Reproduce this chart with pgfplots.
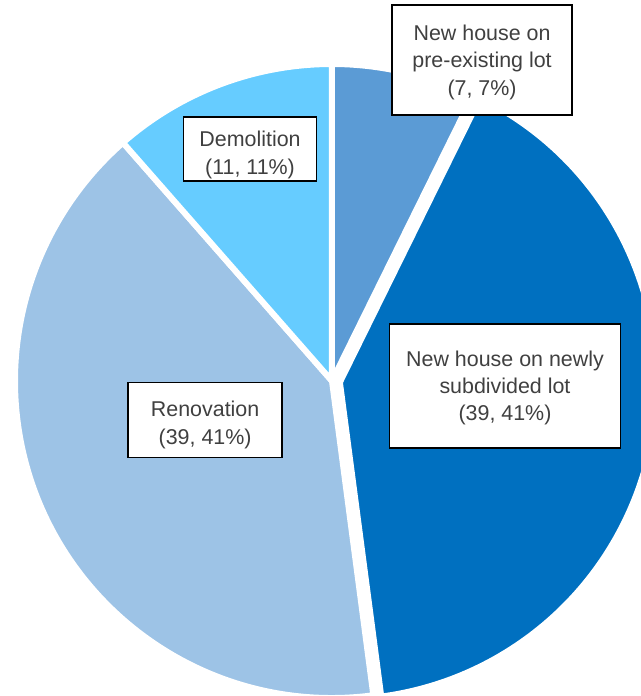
\documentclass[border=0pt]{standalone}
\usepackage{pgfplots}
\usepackage{pgfplotstable}
\pgfplotsset{compat=1.18}
\usepackage{fontspec}
\setmainfont{Liberation Sans}
\definecolor{cpre}{HTML}{5B9BD5}
\definecolor{cnew}{HTML}{0070C0}
\definecolor{creno}{HTML}{9DC3E6}
\definecolor{cdemo}{HTML}{66CCFF}
\definecolor{txt}{HTML}{404040}
\pgfplotstableread{
label count
pre 7
newly 39
reno 39
demo 11
}\piedata
\tikzset{
  box/.style={draw=black, line width=1.5bp, fill=white, inner sep=0pt},
  lbl/.style={text=txt, align=center, inner sep=0pt, font=\fontsize{21.5}{27.5}\selectfont}}
\begin{document}
\begin{tikzpicture}
\useasboundingbox (0,0) rectangle (641bp,696bp);
\clip (0,0) rectangle (641bp,696bp);
\pgfplotstablegetelem{0}{count}\of\piedata \let\vA\pgfplotsretval
\pgfplotstablegetelem{1}{count}\of\piedata \let\vB\pgfplotsretval
\pgfplotstablegetelem{2}{count}\of\piedata \let\vC\pgfplotsretval
\pgfplotstablegetelem{3}{count}\of\piedata \let\vD\pgfplotsretval
\pgfmathsetmacro\tot{\vA+\vB+\vC+\vD}
\pgfmathsetmacro\aA{90}
\pgfmathsetmacro\aB{\aA-360*\vA/\tot}
\pgfmathsetmacro\aC{\aB-360*\vB/\tot}
\pgfmathsetmacro\aD{\aC-360*\vC/\tot}
\pgfmathsetmacro\aE{\aD-360*\vD/\tot}
\pgfmathsetmacro\mB{(\aB+\aC)/2}
\begin{axis}[
  at={(0,0)}, anchor=south west, scale only axis,
  width=641bp, height=696bp,
  xmin=-1.0573, xmax=0.9841, ymin=-1.0032, ymax=1.2134,
  hide axis, clip=false,
]
\fill[cpre, draw=white, line width=6bp] (axis cs:0,0) -- ++(\aA:317bp) arc[start angle=\aA, end angle=\aB, radius=317bp] -- cycle;
\fill[cnew, draw=white, line width=6bp] ([shift={(\mB:8bp)}]axis cs:0,0) -- ++(\aB:317bp) arc[start angle=\aB, end angle=\aC, radius=317bp] -- cycle;
\fill[creno, draw=white, line width=6bp] (axis cs:0,0) -- ++(\aC:317bp) arc[start angle=\aC, end angle=\aD, radius=317bp] -- cycle;
\fill[cdemo, draw=white, line width=6bp] (axis cs:0,0) -- ++(\aD:317bp) arc[start angle=\aD, end angle=\aE, radius=317bp] -- cycle;
\node[box, minimum width=180bp, minimum height=110bp] at (axis cs:0.478,1.022) {};
\node[lbl, yshift=-2bp] at (axis cs:0.478,1.022) {New house on\\pre-existing lot\\(7, 7\%)};
\node[box, minimum width=133bp, minimum height=64bp] at (axis cs:-0.261,0.739) {};
\node[lbl, yshift=-6bp] at (axis cs:-0.261,0.739) {Demolition\\(11, 11\%)};
\node[box, minimum width=231bp, minimum height=124bp] at (axis cs:0.551,-0.016) {};
\node[lbl, yshift=-2bp] at (axis cs:0.551,-0.016) {New house on newly\\subdivided lot\\(39, 41\%)};
\node[box, minimum width=154bp, minimum height=75bp] at (axis cs:-0.404,-0.124) {};
\node[lbl, yshift=-5bp] at (axis cs:-0.404,-0.124) {Renovation\\(39, 41\%)};
\end{axis}
\end{tikzpicture}
\end{document}
